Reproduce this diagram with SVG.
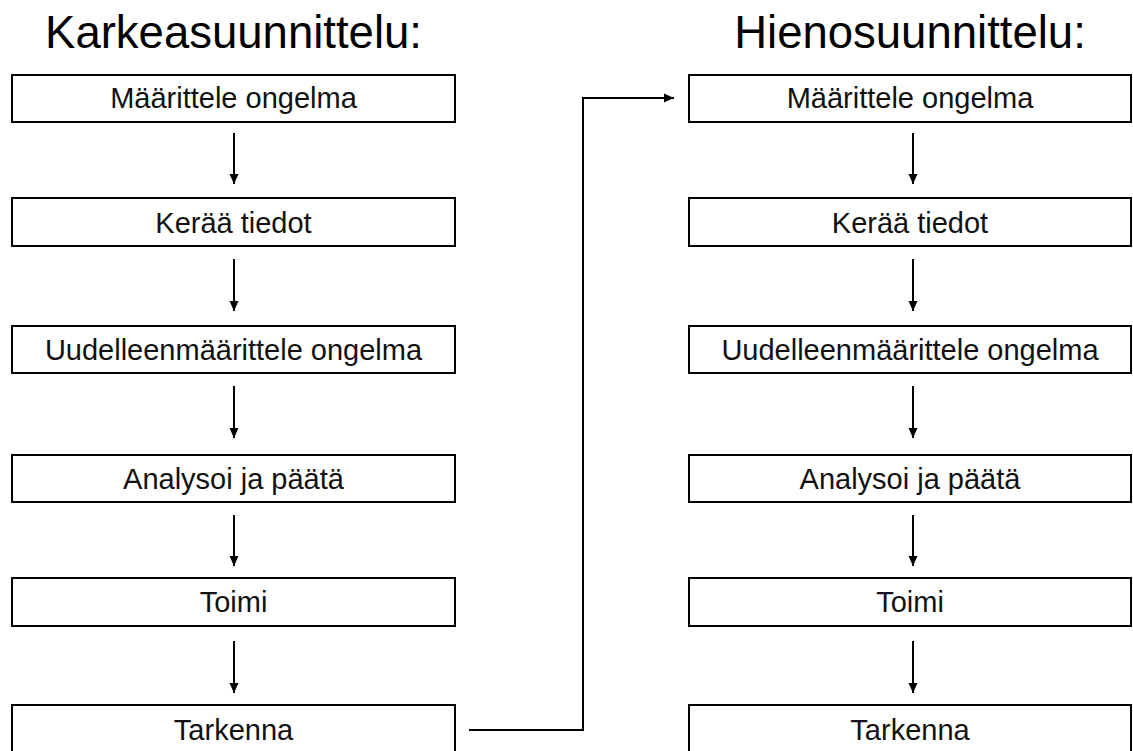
<svg xmlns="http://www.w3.org/2000/svg" width="1133" height="751" viewBox="0 0 1133 751">
<style>
.box{fill:#fff;stroke:#000;stroke-width:2}
.t{font-family:"Liberation Sans",Arial,sans-serif;font-size:29px;fill:#111;text-anchor:middle}
.title{font-family:"Liberation Sans",Arial,sans-serif;font-size:45.5px;fill:#000;text-anchor:middle}
.c{fill:none;stroke:#000;stroke-width:2}
</style>
<defs>
<marker id="ah" markerUnits="userSpaceOnUse" markerWidth="10" markerHeight="10" viewBox="0 0 10 10" refX="10" refY="5" orient="auto">
<path d="M0,0.5 L10,5 L0,9.5 Z" fill="#000"/>
</marker>
</defs>
<rect width="1133" height="751" fill="#fff"/>
<text class="title" x="233.5" y="48">Karkeasuunnittelu:</text>
<text class="title" x="910" y="48">Hienosuunnittelu:</text>
<g id="L1"><rect class="box" x="12" y="75" width="443" height="47"/><text class="t" x="233.5" y="108">Määrittele ongelma</text></g>
<g id="L2"><rect class="box" x="12" y="198" width="443" height="48"/><text class="t" x="233.5" y="232.5">Kerää tiedot</text></g>
<g id="L3"><rect class="box" x="12" y="326" width="443" height="47"/><text class="t" x="233.5" y="360">Uudelleenmäärittele ongelma</text></g>
<g id="L4"><rect class="box" x="12" y="455" width="443" height="47"/><text class="t" x="233.5" y="489">Analysoi ja päätä</text></g>
<g id="L5"><rect class="box" x="12" y="578" width="443" height="48"/><text class="t" x="233.5" y="612">Toimi</text></g>
<g id="L6"><rect class="box" x="12" y="705" width="443" height="48"/><text class="t" x="233.5" y="740">Tarkenna</text></g>
<g id="R1"><rect class="box" x="689" y="75" width="442" height="47"/><text class="t" x="910" y="108">Määrittele ongelma</text></g>
<g id="R2"><rect class="box" x="689" y="198" width="442" height="48"/><text class="t" x="910" y="232.5">Kerää tiedot</text></g>
<g id="R3"><rect class="box" x="689" y="326" width="442" height="47"/><text class="t" x="910" y="360">Uudelleenmäärittele ongelma</text></g>
<g id="R4"><rect class="box" x="689" y="455" width="442" height="47"/><text class="t" x="910" y="489">Analysoi ja päätä</text></g>
<g id="R5"><rect class="box" x="689" y="578" width="442" height="48"/><text class="t" x="910" y="612">Toimi</text></g>
<g id="R6"><rect class="box" x="689" y="705" width="442" height="48"/><text class="t" x="910" y="740">Tarkenna</text></g>
<g id="connectors">
<line class="c" x1="234" y1="133" x2="234" y2="184" marker-end="url(#ah)"/>
<line class="c" x1="234" y1="259" x2="234" y2="311" marker-end="url(#ah)"/>
<line class="c" x1="234" y1="386" x2="234" y2="438" marker-end="url(#ah)"/>
<line class="c" x1="234" y1="515" x2="234" y2="566" marker-end="url(#ah)"/>
<line class="c" x1="234" y1="641" x2="234" y2="693" marker-end="url(#ah)"/>
<line class="c" x1="913" y1="133" x2="913" y2="184" marker-end="url(#ah)"/>
<line class="c" x1="913" y1="259" x2="913" y2="311" marker-end="url(#ah)"/>
<line class="c" x1="913" y1="386" x2="913" y2="438" marker-end="url(#ah)"/>
<line class="c" x1="913" y1="515" x2="913" y2="566" marker-end="url(#ah)"/>
<line class="c" x1="913" y1="641" x2="913" y2="693" marker-end="url(#ah)"/>
<polyline class="c" points="469,730 583,730 583,98 674,98" marker-end="url(#ah)"/>
</g>
</svg>
